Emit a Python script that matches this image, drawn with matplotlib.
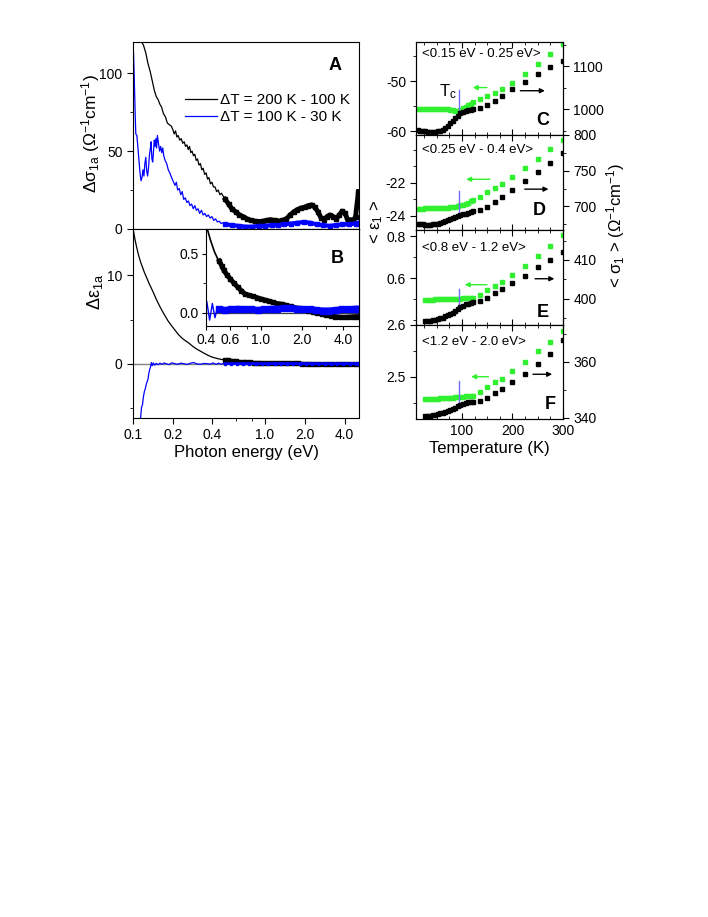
import numpy as np
import matplotlib
matplotlib.use('Agg')
import matplotlib.pyplot as plt
from matplotlib.ticker import FixedLocator, NullFormatter

plt.rcParams['font.family'] = ['Liberation Sans', 'DejaVu Sans']
plt.rcParams['mathtext.fontset'] = 'custom'
plt.rcParams['mathtext.rm'] = 'Liberation Sans'
plt.rcParams['mathtext.it'] = 'Liberation Sans:italic'
plt.rcParams['mathtext.default'] = 'regular'
plt.rcParams['axes.unicode_minus'] = False
plt.rcParams['xtick.labelsize'] = 10
plt.rcParams['ytick.labelsize'] = 10

# ---- panel A : delta sigma_1a ----
e_a_k_line = [0.100, 0.104, 0.108, 0.112, 0.116, 0.120, 0.125, 0.130, 0.135, 0.140,
              0.145, 0.150, 0.155, 0.160, 0.165, 0.170, 0.176, 0.182, 0.188, 0.195,
              0.200, 0.205, 0.210, 0.215, 0.220, 0.226, 0.232, 0.238, 0.244, 0.250,
              0.256, 0.262, 0.268, 0.274, 0.280, 0.287, 0.294, 0.301, 0.308, 0.316,
              0.324, 0.332, 0.340, 0.349, 0.358, 0.367, 0.376, 0.386, 0.396, 0.407,
              0.418, 0.430, 0.442, 0.455, 0.468, 0.482, 0.500]
s_a_k_line = [140, 133, 127, 123, 120, 118, 113, 106, 101, 95,
              89, 85, 83, 80, 78, 74, 72, 68, 67, 66,
              64, 61, 63, 59, 60, 57, 58, 55, 56, 53,
              54, 51, 53, 49, 50, 47, 48, 44, 45, 41,
              42, 38, 39, 35, 36, 32, 33, 29, 30, 27,
              27, 24, 25, 22, 23, 21, 20]
e_a_k_sq = [0.50, 0.53, 0.56, 0.60, 0.64, 0.68, 0.73, 0.78, 0.84, 0.90,
            0.96, 1.03, 1.10, 1.18, 1.26, 1.35, 1.45, 1.55, 1.65, 1.76,
            1.88, 2.00, 2.12, 2.25, 2.38, 2.52, 2.66, 2.80, 2.95, 3.10,
            3.28, 3.46, 3.65, 3.85, 4.05, 4.25, 4.45, 4.65, 4.85, 5.10]
s_a_k_sq = [19, 16, 13, 11, 9, 8, 6.5, 5.5, 5, 4.8,
            5, 5.5, 6, 5.5, 5, 5.5, 6.5, 9, 11, 12.5,
            13.5, 14, 15, 15.5, 14, 11, 7, 6, 8, 9,
            8, 6.5, 9, 11.5, 10, 5, 6, 5, 8, 24]
e_a_b_line = [0.100, 0.101, 0.102, 0.103, 0.104, 0.105, 0.107, 0.109, 0.111, 0.113,
              0.115, 0.117, 0.119, 0.121, 0.123, 0.125, 0.127, 0.129, 0.131, 0.133,
              0.135, 0.137, 0.139, 0.141, 0.143, 0.145, 0.147, 0.149, 0.151, 0.153,
              0.156, 0.159, 0.162, 0.165, 0.168, 0.171, 0.175, 0.180, 0.185, 0.190,
              0.196, 0.203, 0.208, 0.213, 0.218, 0.224, 0.230, 0.236, 0.242, 0.249,
              0.256, 0.263, 0.270, 0.278, 0.286, 0.294, 0.302, 0.311, 0.320, 0.330,
              0.340, 0.350, 0.361, 0.372, 0.384, 0.396, 0.409, 0.422, 0.436, 0.450,
              0.465, 0.480, 0.500]
s_a_b_line = [119, 112, 100, 86, 72, 61, 60, 52, 44, 36,
              31, 33, 38, 34, 42, 46, 37, 34, 39, 47,
              51, 56, 45, 43, 50, 57, 53, 58, 52, 60,
              55, 50, 53, 49, 52, 47, 44, 42, 38, 36,
              33, 30, 28, 30, 25, 26, 22, 24, 19, 20,
              17, 18, 15, 16, 13, 15, 12, 13, 10, 12,
              9, 10, 8, 9, 7, 8, 5.5, 6.5, 4.5, 5,
              3.5, 4, 3]
e_a_b_sq = [0.50, 0.56, 0.63, 0.71, 0.80, 0.90, 1.00, 1.12, 1.25, 1.40,
            1.57, 1.76, 1.97, 2.20, 2.46, 2.75, 3.08, 3.45, 3.86, 4.32,
            4.85, 5.10]
s_a_b_sq = [3, 2.5, 2, 1.5, 1.5, 2, 2, 2.5, 2.5, 3,
            3.5, 4, 4.5, 4, 3, 2.5, 2, 2.5, 3, 3,
            3.5, 4]

# ---- panel B : delta eps_1a ----
e_b_k_line = [0.100, 0.103, 0.106, 0.110, 0.114, 0.118, 0.122, 0.127, 0.132, 0.137,
              0.143, 0.150, 0.158, 0.166, 0.175, 0.185, 0.196, 0.208, 0.221, 0.235,
              0.250, 0.267, 0.285, 0.305, 0.327, 0.350, 0.375, 0.400, 0.430, 0.460,
              0.490, 0.520]
d_b_k_line = [15.3, 14.2, 13.3, 12.3, 11.5, 10.9, 10.3, 9.7, 9.1, 8.6,
              8.0, 7.3, 6.6, 6.0, 5.4, 4.8, 4.3, 3.8, 3.3, 2.9,
              2.6, 2.3, 1.95, 1.65, 1.4, 1.15, 0.92, 0.75, 0.62, 0.52,
              0.45, 0.41]
e_b_k_sq = [0.50, 0.52, 0.54, 0.57, 0.60, 0.64, 0.68, 0.72, 0.77, 0.82,
            0.88, 0.94, 1.00, 1.07, 1.15, 1.23, 1.32, 1.42, 1.53, 1.65,
            1.78, 1.92, 2.07, 2.23, 2.40, 2.58, 2.78, 3.00, 3.23, 3.48,
            3.75, 4.04, 4.35, 4.68, 5.05]
d_b_k_sq = [0.44, 0.40, 0.36, 0.32, 0.29, 0.25, 0.22, 0.19, 0.16, 0.15,
            0.14, 0.13, 0.12, 0.11, 0.10, 0.09, 0.08, 0.075, 0.065, 0.055,
            0.045, 0.038, 0.03, 0.02, 0.01, 0.0, -0.01, -0.017, -0.025, -0.03,
            -0.035, -0.037, -0.035, -0.032, -0.03]
e_b_b_line = [0.112, 0.114, 0.116, 0.118, 0.120, 0.122, 0.124, 0.126, 0.128, 0.130,
              0.132, 0.134, 0.136, 0.138, 0.140, 0.143, 0.146, 0.150, 0.155, 0.160,
              0.166, 0.172, 0.180, 0.188, 0.197, 0.207, 0.218, 0.230, 0.243, 0.257,
              0.272, 0.288, 0.305, 0.325, 0.345, 0.365, 0.385, 0.405, 0.425, 0.445,
              0.465, 0.485, 0.500]
d_b_b_line = [-8, -6.2, -4.9, -4.6, -3.7, -3.1, -2.8, -2.3, -2.0, -1.7,
              -1.0, -0.6, -0.3, 0.15, -0.2, 0.1, -0.15, 0.05, -0.1, 0.08,
              -0.05, 0.1, 0.0, -0.08, 0.12, 0.03, -0.05, 0.08, 0.02, -0.06,
              0.07, 0.15, 0.0, -0.04, 0.05, 0.02, -0.03, 0.10, -0.06, 0.08,
              -0.04, 0.05, 0.02]
e_b_b_sq = [0.50, 0.55, 0.61, 0.68, 0.76, 0.85, 0.95, 1.06, 1.18, 1.32,
            1.47, 1.64, 1.83, 2.04, 2.28, 2.54, 2.83, 3.16, 3.52, 3.93,
            4.38, 4.88, 5.10]
d_b_b_sq = [0.03, 0.025, 0.03, 0.035, 0.03, 0.03, 0.025, 0.03, 0.035, 0.035,
            0.04, 0.04, 0.035, 0.03, 0.03, 0.025, 0.02, 0.02, 0.025, 0.03,
            0.03, 0.035, 0.035]

# ---- panels C-F : band averages vs temperature ----
t_cd = [12, 17, 22, 27, 32, 37, 42, 47, 52, 57, 62, 67, 72, 77, 82, 87, 92, 97,
        102, 107, 112, 117, 122]
t_ef = [27, 32, 37, 42, 47, 52, 57, 62, 67, 72, 77, 82, 87, 92, 97,
        102, 107, 112, 117, 122]
t_hi = [135, 150, 165, 180, 200, 225, 250, 275, 300]

eps_c = [-55.5, -55.5, -55.5, -55.5, -55.5, -55.5, -55.5, -55.5, -55.5, -55.6,
         -55.6, -55.6, -55.6, -55.7, -55.8, -55.9, -56.0, -55.7, -55.4, -55.1,
         -54.8, -54.5, -54.2]
eps_c_hi = [-53.6, -52.9, -52.3, -51.5, -50.3, -48.5, -46.6, -44.6, -42.6]
sig_c = [951, 950, 949, 949, 948, 948, 948, 948, 949, 950,
         952, 956, 961, 967, 973, 979, 985, 990, 993, 995,
         997, 998, 1000]
sig_c_hi = [1003, 1010, 1019, 1031, 1046, 1063, 1081, 1098, 1112]

eps_d = [-23.56, -23.55, -23.55, -23.54, -23.54, -23.53, -23.53, -23.52, -23.52, -23.51,
         -23.50, -23.50, -23.49, -23.48, -23.47, -23.45, -23.42, -23.36, -23.31, -23.25,
         -23.19, -23.12, -23.05]
eps_d_hi = [-22.85, -22.58, -22.28, -22.04, -21.62, -21.11, -20.55, -19.94, -19.39]
sig_d = [676, 675.5, 675, 674.6, 674.5, 674.6, 675, 675.5, 676, 677,
         678, 679, 680.5, 682, 683.5, 685, 686.5, 688, 689, 690,
         691, 692, 693]
sig_d_hi = [695, 699, 706, 713, 723, 736, 748.6, 760.7, 775.4]

eps_e = [0.497, 0.497, 0.497, 0.497, 0.498, 0.498, 0.498, 0.498, 0.499, 0.499,
         0.499, 0.500, 0.500, 0.501, 0.502, 0.503, 0.504, 0.505, 0.506, 0.507]
eps_e_hi = [0.520, 0.541, 0.560, 0.581, 0.613, 0.656, 0.703, 0.751, 0.803]
sig_e = [394.2, 394.3, 394.4, 394.5, 394.6, 394.8, 395.0, 395.2, 395.5, 395.8,
         396.1, 396.5, 396.9, 397.4, 397.9, 398.3, 398.6, 398.8, 399.0, 399.2]
sig_e_hi = [399.5, 400.3, 401.5, 402.6, 404.1, 406.0, 408.1, 409.9, 412.0]

eps_f = [2.457, 2.457, 2.457, 2.458, 2.458, 2.458, 2.459, 2.459, 2.459, 2.460,
         2.460, 2.460, 2.461, 2.461, 2.462, 2.462, 2.463, 2.463, 2.464, 2.464]
eps_f_hi = [2.471, 2.480, 2.490, 2.496, 2.5115, 2.529, 2.549, 2.568, 2.589]
sig_f = [340.6, 340.7, 340.8, 341.0, 341.2, 341.4, 341.6, 341.9, 342.1, 342.4,
         342.8, 343.2, 343.7, 344.2, 344.7, 345.1, 345.4, 345.6, 345.7, 345.8]
sig_f_hi = [345.9, 347.0, 349.0, 350.4, 352.75, 355.6, 359.4, 363.0, 367.75]

band_labels = ['<0.15 eV - 0.25 eV>', '<0.25 eV - 0.4 eV>', '<0.8 eV - 1.2 eV>', '<1.2 eV - 2.0 eV>']
panel_letters = ['C', 'D', 'E', 'F']
tc = 95

green = '#30f030'
blue = '#0000ff'

fig = plt.figure(figsize=(7.08, 9.17), dpi=100)

def px_axes(x0, y0, x1, y1):
    # pixel box (top-left origin) -> figure axes
    return fig.add_axes([x0 / 708, 1 - y1 / 917, (x1 - x0) / 708, (y1 - y0) / 917])

energy_ticks = [0.1, 0.2, 0.4, 1.0, 2.0, 4.0]
energy_labels = ['0.1', '0.2', '0.4', '1.0', '2.0', '4.0']

# ---------- A ----------
axA = px_axes(133, 42, 359, 229)
axA.plot(e_a_k_line, s_a_k_line, color='k', lw=0.9, label='ΔT = 200 K - 100 K')
axA.plot(e_a_k_sq, s_a_k_sq, color='k', lw=3.5, marker='s', ms=3.5)
axA.plot(e_a_b_line, s_a_b_line, color=blue, lw=0.9, label='ΔT = 100 K - 30 K')
axA.plot(e_a_b_sq, s_a_b_sq, color=blue, lw=3, marker='s', ms=3)
axA.set_xscale('log')
axA.set_xlim(0.1, 5.15)
axA.set_ylim(0, 120)
axA.set_xticks(energy_ticks)
axA.xaxis.set_minor_locator(FixedLocator([0.6, 0.8]))
axA.xaxis.set_minor_formatter(NullFormatter())
axA.set_xticklabels([])
axA.set_yticks([0, 50, 100])
axA.yaxis.set_minor_locator(FixedLocator([25, 75]))
axA.tick_params(which='major', length=4)
axA.tick_params(which='minor', length=2)
axA.legend(loc='upper left', bbox_to_anchor=(0.231, 0.728), frameon=False, fontsize=11,
           handlelength=2.1, handletextpad=0.2, labelspacing=0.22, borderpad=0, borderaxespad=0)
axA.text(0.895, 0.875, 'A', transform=axA.transAxes, fontsize=13, fontweight='bold',
         ha='center', va='center')

# ---------- B ----------
axB = px_axes(133, 229, 359, 418)
axB.axhline(0, color='#808080', lw=1)
axB.plot(e_b_k_line, d_b_k_line, color='k', lw=0.9)
axB.plot(e_b_k_sq, d_b_k_sq, color='k', lw=2.5, marker='s', ms=2.5)
axB.plot(e_b_b_line, d_b_b_line, color=blue, lw=0.9)
axB.plot(e_b_b_sq, d_b_b_sq, color=blue, lw=2, marker='s', ms=2)
axB.set_xscale('log')
axB.set_xlim(0.1, 5.15)
axB.set_ylim(-6.1, 15.2)
axB.set_xticks(energy_ticks)
axB.set_xticklabels(energy_labels)
axB.xaxis.set_minor_locator(FixedLocator([0.6, 0.8]))
axB.xaxis.set_minor_formatter(NullFormatter())
axB.set_yticks([0, 10])
axB.yaxis.set_minor_locator(FixedLocator([-5, 5]))
axB.tick_params(which='major', length=4)
axB.tick_params(which='minor', length=2)
axB.set_xlabel('Photon energy (eV)', fontsize=12, labelpad=2)

# inset
axI = px_axes(206, 229, 359, 326)
axI.axhline(0, color='#404040', lw=0.9)
axI.plot(e_b_k_line, d_b_k_line, color='k', lw=1.2)
axI.plot(e_b_k_sq, d_b_k_sq, color='k', lw=3.5, marker='s', ms=3.5)
axI.plot(e_b_b_line, d_b_b_line, color=blue, lw=1.0)
axI.plot(e_b_b_sq, d_b_b_sq, color=blue, lw=4.5, marker='s', ms=4)
axI.set_xscale('log')
axI.set_xlim(0.4, 5.2)
axI.set_ylim(-0.11, 0.71)
axI.set_xticks([0.4, 0.6, 1.0, 2.0, 4.0])
axI.set_xticklabels(['0.4', '0.6', '1.0', '2.0', '4.0'])
axI.xaxis.set_minor_locator(FixedLocator([0.8, 3.0]))
axI.xaxis.set_minor_formatter(NullFormatter())
axI.set_yticks([0.0, 0.5])
axI.set_yticklabels(['0.0', '0.5'])
axI.yaxis.set_minor_locator(FixedLocator([0.25]))
axI.tick_params(which='major', length=3, pad=2)
axI.tick_params(which='minor', length=2)
axI.text(0.86, 0.70, 'B', transform=axI.transAxes, fontsize=13, fontweight='bold',
         ha='center', va='center')

fig.text(91 / 708, 1 - 134 / 917, 'Δσ$_{1a}$ (Ω$^{-1}$cm$^{-1}$)', rotation=90,
         fontsize=12.5, ha='center', va='center')
fig.text(95 / 708, 1 - 292 / 917, 'Δε$_{1a}$', rotation=90, fontsize=13,
         ha='center', va='center')

# ---------- C-F ----------
boxes = [(42, 135), (135, 230), (230, 325), (325, 419)]
t_lows = [t_cd, t_cd, t_ef, t_ef]
eps_lows = [eps_c, eps_d, eps_e, eps_f]
eps_highs = [eps_c_hi, eps_d_hi, eps_e_hi, eps_f_hi]
sig_lows = [sig_c, sig_d, sig_e, sig_f]
sig_highs = [sig_c_hi, sig_d_hi, sig_e_hi, sig_f_hi]
left_lims = [(-60.8, -42.2), (-24.85, -19.1), (0.376, 0.829), (2.419, 2.6)]
left_ticks = [[-60, -50], [-24, -22], [0.6, 0.8], [2.5, 2.6]]
left_tlabels = [['-60', '-50'], ['-24', '-22'], ['0.6', '0.8'], ['2.5', '2.6']]
left_minor = [[-55, -45], [-23, -21, -20], [0.4, 0.5, 0.7], [2.45, 2.55]]
right_lims = [(940, 1156), (667, 800), (393.3, 417.7), (339.6, 373.2)]
right_ticks = [[1000, 1100], [700, 750, 800], [400, 410], [340, 360]]
right_minor = [[950, 1050, 1150], [675, 725, 775], [395, 405, 415], [350, 370]]
green_arrows = [(0.50, 0.365, 0.51), (0.52, 0.32, 0.534), (0.50, 0.31, 0.424), (0.51, 0.354, 0.45)]
black_arrows = [(0.69, 0.895, 0.476), (0.72, 0.92, 0.43), (0.79, 0.96, 0.487), (0.776, 0.945, 0.476)]
tc_spans = [(0.24, 0.48), (0.158, 0.41), (0.16, 0.38), (0.14, 0.40)]
letter_pos = [(0.865, 0.16), (0.84, 0.21), (0.865, 0.13), (0.91, 0.15)]
label_y = [0.87, 0.84, 0.81, 0.82]

for i in range(4):
    ax = px_axes(416.5, boxes[i][0], 563, boxes[i][1])
    ax2 = ax.twinx()
    ax.plot(t_lows[i] + t_hi, eps_lows[i] + eps_highs[i], ls='none', marker='s',
            ms=3.3, color=green, mec=green)
    ax2.plot(t_lows[i] + t_hi, sig_lows[i] + sig_highs[i], ls='none', marker='s',
             ms=3.3, color='k')
    ax.set_xlim(10, 300)
    ax.set_ylim(*left_lims[i])
    ax2.set_ylim(*right_lims[i])
    ax.set_yticks(left_ticks[i])
    ax.set_yticklabels(left_tlabels[i])
    ax.yaxis.set_minor_locator(FixedLocator(left_minor[i]))
    ax2.set_yticks(right_ticks[i])
    ax2.yaxis.set_minor_locator(FixedLocator(right_minor[i]))
    ax.set_xticks([100, 200, 300])
    ax.xaxis.set_minor_locator(FixedLocator([25, 50, 75, 125, 150, 175, 225, 250, 275]))
    ax.tick_params(axis='x', which='both', direction='in', top=True)
    ax.tick_params(which='major', length=4)
    ax.tick_params(which='minor', length=2)
    ax2.tick_params(which='major', length=4)
    ax2.tick_params(which='minor', length=2)
    if i < 3:
        ax.set_xticklabels([])
    else:
        ax.set_xlabel('Temperature (K)', fontsize=12, labelpad=2)
    ax.axvline(tc, ymin=tc_spans[i][0], ymax=tc_spans[i][1], color='#6e6eff', lw=1)
    ga = green_arrows[i]
    ax.annotate('', xy=(ga[1], ga[2]), xytext=(ga[0], ga[2]), xycoords='axes fraction',
                arrowprops=dict(arrowstyle='-|>', color=green, lw=1, mutation_scale=7))
    ba = black_arrows[i]
    ax.annotate('', xy=(ba[1], ba[2]), xytext=(ba[0], ba[2]), xycoords='axes fraction',
                arrowprops=dict(arrowstyle='-|>', color='k', lw=1, mutation_scale=7))
    ax.text(0.035, label_y[i], band_labels[i], transform=ax.transAxes, fontsize=9.5,
            ha='left', va='center')
    ax.text(letter_pos[i][0], letter_pos[i][1], panel_letters[i], transform=ax.transAxes,
            fontsize=13, fontweight='bold', ha='center', va='center')
    if i == 0:
        ax.text(0.155, 0.47, 'T$_c$', transform=ax.transAxes, fontsize=12,
                ha='left', va='center')

fig.text(377 / 708, 1 - 222 / 917, '< ε$_1$ >', rotation=90, fontsize=12,
         ha='center', va='center')
fig.text(616 / 708, 1 - 225 / 917, '< σ$_1$ > (Ω$^{-1}$cm$^{-1}$)', rotation=90,
         fontsize=12, ha='center', va='center')

fig.savefig('out.png', dpi=100)
